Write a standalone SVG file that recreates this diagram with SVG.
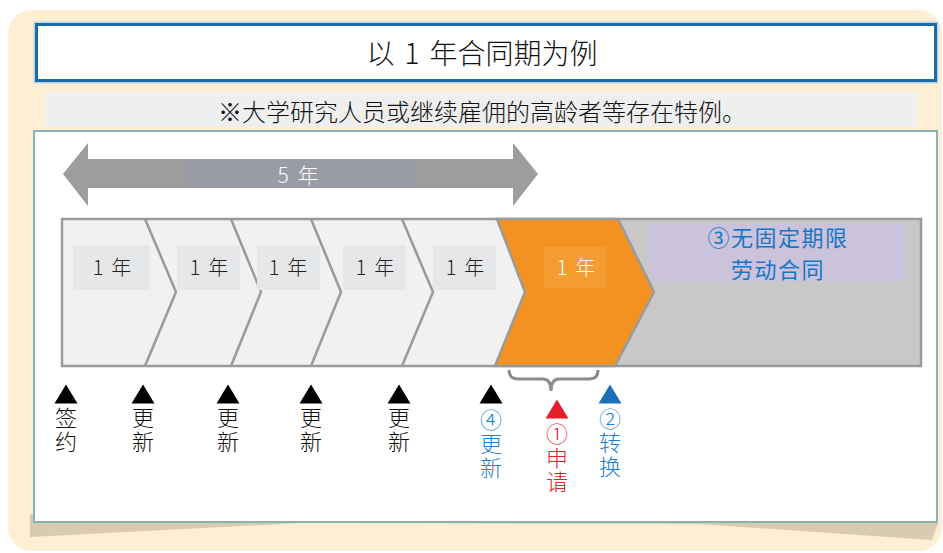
<svg xmlns="http://www.w3.org/2000/svg" width="943" height="553" viewBox="0 0 943 553">
<defs>
<style>
text{font-family:"Noto Sans CJK SC","Liberation Sans",sans-serif;font-weight:300;}
.yr{font-size:20px;fill:#222;text-anchor:middle;dominant-baseline:central;}
.lbl{fill:#e6e7e9;}
.chev{fill:none;stroke:#9a9a9a;stroke-width:2.5;stroke-linejoin:miter;}
.vt{font-size:22px;writing-mode:vertical-rl;letter-spacing:2px;}
.blk{fill:#111;}
.blu{fill:#1b7fd0;}
.red{fill:#e8202a;}
</style>
<polygon id="tri" points="-11.5,9.5 11.5,9.5 0,-9.5"/>
</defs>
<rect id="bg" x="8" y="10" width="934" height="541" rx="24" fill="#fdeed4"/>
<g id="title">
<rect x="35" y="23" width="902" height="59" fill="none" stroke="#b9d7ea" stroke-width="3"/>
<rect x="36.5" y="24.5" width="899" height="56" fill="#ffffff" stroke="#1e6aa3" stroke-width="3"/>
<text x="482" y="52" font-size="28" fill="#111" text-anchor="middle" dominant-baseline="central">以<tspan dx="10">1</tspan><tspan dx="10">年合同期为例</tspan></text>
</g>
<g id="note">
<rect x="45" y="92" width="873" height="35" fill="#efefef"/>
<text x="482" y="110" font-size="24" fill="#111" text-anchor="middle" dominant-baseline="central">※大学研究人员或继续雇佣的高龄者等存在特例。</text>
</g>
<g id="panel">
<polygon points="30,514 938,514 938,523 932,540 700,524 300,523 30,537" fill="#d8cbae"/>
<rect x="34" y="131" width="903" height="391" fill="#ffffff" stroke="#86b3b8" stroke-width="2"/>
</g>
<g id="span5">
<polygon points="63,174 88,143 88,159 513,159 513,143 538,174 513,206 513,188 88,188 88,206" fill="#9d9d9d"/>
<rect x="184" y="159" width="231" height="29" fill="#9a9ca5"/>
<text x="298" y="174" font-size="21" fill="#ffffff" text-anchor="middle" dominant-baseline="central">5<tspan dx="9">年</tspan></text>
</g>
<g id="band">
<rect x="62" y="219" width="859" height="147" fill="#c8c8c8"/>
<polygon points="62,219 497,219 525,292 495,366 62,366" fill="#f1f1f1"/>
<polyline class="chev" points="145,219 176,292 145,366"/>
<polyline class="chev" points="231,219 261,292 231,366"/>
<polyline class="chev" points="311,219 341,292 311,366"/>
<polyline class="chev" points="402,219 433,292 402,366"/>
<rect x="62" y="219" width="859" height="147" fill="none" stroke="#9a9a9a" stroke-width="2.5"/>
</g>
<g id="y1"><rect class="lbl" x="73" y="245" width="77" height="45"/><text class="yr" x="112" y="266">1<tspan dx="8">年</tspan></text></g>
<g id="y2"><rect class="lbl" x="177" y="245" width="63" height="45"/><text class="yr" x="209" y="266">1<tspan dx="8">年</tspan></text></g>
<g id="y3"><rect class="lbl" x="257" y="245" width="63" height="45"/><text class="yr" x="288" y="266">1<tspan dx="8">年</tspan></text></g>
<g id="y4"><rect class="lbl" x="343" y="245" width="63" height="45"/><text class="yr" x="375" y="266">1<tspan dx="8">年</tspan></text></g>
<g id="y5"><rect class="lbl" x="433" y="245" width="63" height="45"/><text class="yr" x="465" y="266">1<tspan dx="8">年</tspan></text></g>
<g id="y6">
<polygon points="497,219 618,219 654,292 615,366 495,366 525,292" fill="#f39220" stroke="#9a9a9a" stroke-width="2.5" stroke-linejoin="miter"/>
<rect x="544" y="247" width="63" height="41" fill="#f59c30"/>
<text class="yr" x="576" y="266" style="fill:#ffffff">1<tspan dx="8">年</tspan></text>
</g>
<g id="unlimited">
<rect x="650" y="224" width="256" height="57" fill="#cbc2db"/>
<text font-size="22" fill="#1a76c4" text-anchor="middle" dominant-baseline="central" letter-spacing="1.5" style="font-weight:400"><tspan x="778" y="236">③无固定期限</tspan><tspan x="778" y="268">劳动合同</tspan></text>
</g>
<g id="connectors">
<path d="M509,370 Q509,379 518,379 L543,379 Q551,379 551,391 Q551,379 559,379 L589,379 Q598,379 598,370" fill="none" stroke="#8c8c8c" stroke-width="3"/>
</g>
<g id="m-sign"><use href="#tri" x="66" y="394" fill="#000"/><text class="vt blk" x="66" y="407">签约</text></g>
<g id="m-r1"><use href="#tri" x="143" y="394" fill="#000"/><text class="vt blk" x="143" y="407">更新</text></g>
<g id="m-r2"><use href="#tri" x="228" y="394" fill="#000"/><text class="vt blk" x="228" y="407">更新</text></g>
<g id="m-r3"><use href="#tri" x="311" y="394" fill="#000"/><text class="vt blk" x="311" y="407">更新</text></g>
<g id="m-r4"><use href="#tri" x="399" y="394" fill="#000"/><text class="vt blk" x="399" y="407">更新</text></g>
<g id="m-r5"><use href="#tri" x="491" y="394" fill="#000"/><text class="vt blu" x="491" y="409">④更新</text></g>
<g id="m-apply"><use href="#tri" x="557" y="409" fill="#e3202a"/><text class="vt red" x="557" y="423">①申请</text></g>
<g id="m-convert"><use href="#tri" x="610" y="394" fill="#1a6fb8"/><text class="vt blu" x="610" y="408">②转换</text></g>
</svg>
